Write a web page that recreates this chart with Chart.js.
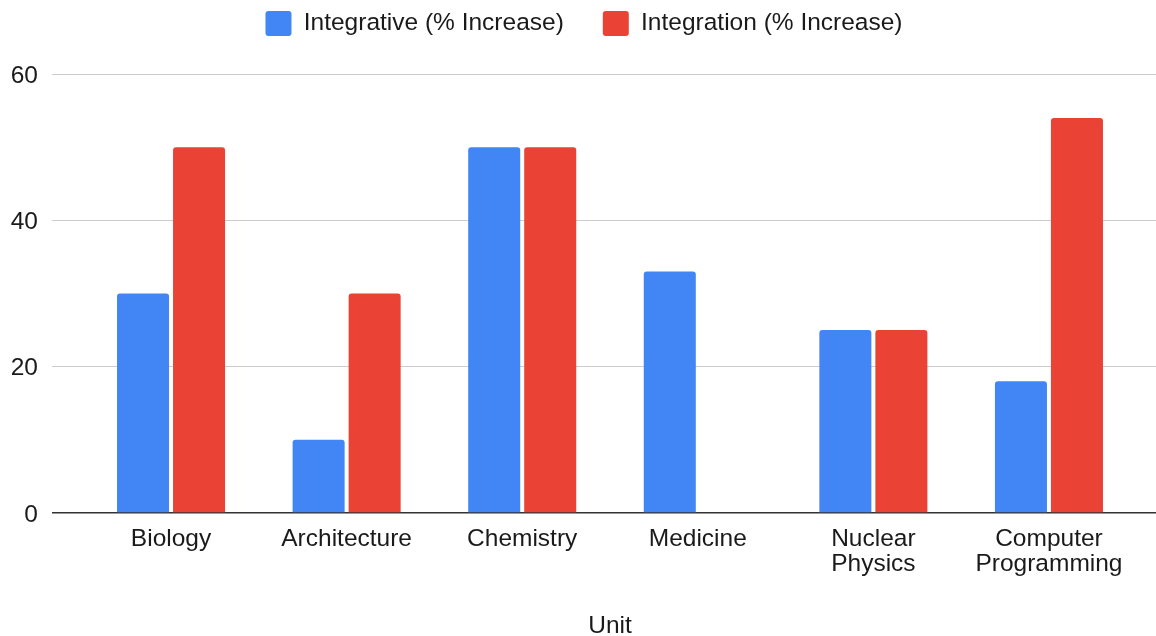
<!DOCTYPE html>
<html>
<head>
<meta charset="utf-8">
<script src="https://cdn.jsdelivr.net/npm/chart.js@4"></script>
<style>
  html, body { margin: 0; padding: 0; background: #fff; overflow: hidden; width: 1156px; height: 636px; }
  canvas { display: block; }
</style>
</head>
<body>
<canvas id="chart" width="1170" height="636"></canvas>
<script>
// Units and the percentage increase recorded for each approach
const units = ['Biology', 'Architecture', 'Chemistry', 'Medicine', 'Nuclear Physics', 'Computer Programming'];
const integrative = [30, 10, 50, 33, 25, 18];
const integration = [50, 30, 50, null, 25, 54];
const yTicks = [0, 20, 40, 60];
const seriesNames = ['Integrative (% Increase)', 'Integration (% Increase)'];
const seriesColors = ['#4285F4', '#EA4335'];
const xTitle = 'Unit';

const FONT = "'Liberation Sans', Arial, Helvetica, sans-serif";
const TEXT = '#1a1a1a';

// Each unit sits at its index on a numeric axis, which leaves room at both ends
const toPoints = vals => vals.map((v, i) => ({ x: i, y: v }));
const tickLines = units.map(u => u.split(' '));

// Give the legend a fixed height so the plot starts under it
const legendHeight = {
  id: 'legendHeight',
  beforeInit(chart) {
    const fit = chart.legend.fit;
    chart.legend.fit = function () {
      fit.call(this);
      this.height = 102;
    };
  }
};

new Chart(document.getElementById('chart'), {
  type: 'bar',
  data: {
    datasets: [
      {
        label: seriesNames[0],
        data: toPoints(integrative),
        backgroundColor: seriesColors[0],
        borderRadius: 3,
        borderSkipped: 'start',
        categoryPercentage: 0.638,
        barPercentage: 0.929
      },
      {
        label: seriesNames[1],
        data: toPoints(integration),
        backgroundColor: seriesColors[1],
        borderRadius: 3,
        borderSkipped: 'start',
        categoryPercentage: 0.638,
        barPercentage: 0.929
      }
    ]
  },
  options: {
    responsive: false,
    animation: false,
    devicePixelRatio: 1,
    layout: { padding: { top: -28, right: 2, left: 0, bottom: 0 } },
    plugins: {
      tooltip: { enabled: false },
      legend: {
        position: 'top',
        labels: {
          boxWidth: 26,
          boxHeight: 25,
          padding: 39,
          color: TEXT,
          font: { family: FONT, size: 24.5 },
          generateLabels(chart) {
            return chart.data.datasets.map((ds, i) => ({
              text: ds.label,
              fillStyle: ds.backgroundColor,
              strokeStyle: ds.backgroundColor,
              lineWidth: 0,
              borderRadius: 3,
              hidden: false,
              datasetIndex: i,
              fontColor: TEXT
            }));
          }
        }
      }
    },
    scales: {
      x: {
        type: 'linear',
        min: -0.678,
        max: 5.678,
        offset: false,
        grid: { display: false, drawTicks: false },
        border: { display: false },
        afterBuildTicks(scale) {
          scale.ticks = units.map((_, i) => ({ value: i }));
        },
        afterFit(scale) { scale.height = 123; },
        ticks: {
          autoSkip: false,
          maxRotation: 0,
          padding: 14,
          color: TEXT,
          font: { family: FONT, size: 24.5, lineHeight: 1 },
          callback: value => tickLines[value]
        },
        title: {
          display: true,
          text: xTitle,
          color: TEXT,
          font: { family: FONT, size: 24.5, lineHeight: 1 },
          padding: { top: 0, bottom: -2 }
        }
      },
      y: {
        min: 0,
        max: 60,
        afterBuildTicks(scale) {
          scale.ticks = yTicks.map(v => ({ value: v }));
        },
        afterFit(scale) { scale.width = 52; },
        border: { display: false },
        grid: {
          drawTicks: false,
          color: ctx => (ctx.tick && ctx.tick.value === 0 ? '#333333' : '#cccccc'),
          lineWidth: ctx => (ctx.tick && ctx.tick.value === 0 ? 1.4 : 1)
        },
        ticks: {
          padding: 14,
          labelOffset: 2,
          color: TEXT,
          font: { family: FONT, size: 24.5 }
        }
      }
    }
  },
  plugins: [legendHeight]
});
</script>
</body>
</html>
